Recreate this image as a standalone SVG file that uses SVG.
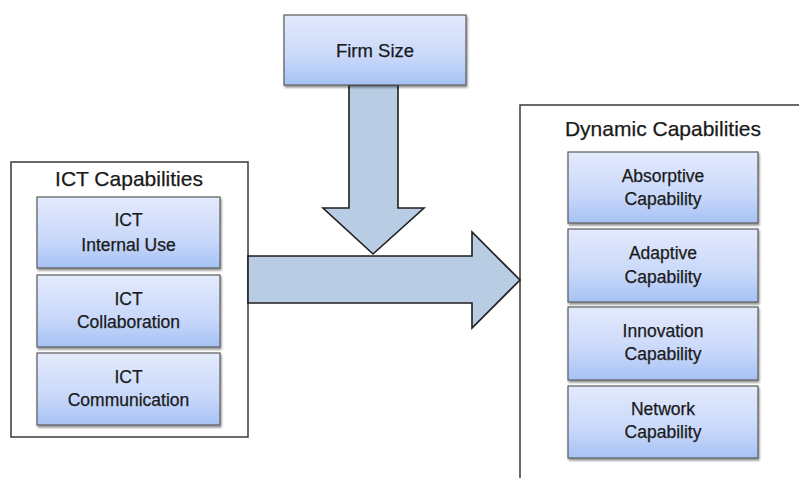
<svg xmlns="http://www.w3.org/2000/svg" width="799" height="478" viewBox="0 0 799 478">
<defs>
<linearGradient id="boxGrad" x1="0" y1="0" x2="0" y2="1">
<stop offset="0" stop-color="#e3eafc"/>
<stop offset="0.6" stop-color="#c9d8fa"/>
<stop offset="1" stop-color="#a6c2f4"/>
</linearGradient>
<filter id="shadow" x="-10%" y="-10%" width="120%" height="130%">
<feGaussianBlur in="SourceAlpha" stdDeviation="1"/>
<feOffset dx="0.5" dy="1.5" result="b"/>
<feComponentTransfer><feFuncA type="linear" slope="0.45"/></feComponentTransfer>
<feMerge><feMergeNode/><feMergeNode in="SourceGraphic"/></feMerge>
</filter>
</defs>
<style>
.container{fill:#ffffff;stroke:#3a3a3a;stroke-width:1.5}
.box{fill:url(#boxGrad);stroke:#5a5a5a;stroke-width:1.2;filter:url(#shadow)}
.arrow{fill:#b8cce4;stroke:#1e1e1e;stroke-width:1.6;stroke-linejoin:miter}
.title{font-family:"Liberation Sans",Arial,sans-serif;font-size:21px;fill:#1a1a1a;stroke:#1a1a1a;stroke-width:0.25;text-anchor:middle}
.lbl{font-family:"Liberation Sans",Arial,sans-serif;font-size:17.5px;fill:#1a1a1a;stroke:#1a1a1a;stroke-width:0.25;text-anchor:middle}
</style>
<rect width="799" height="478" fill="#ffffff"/>

<g id="ict-capabilities">
<rect class="container" x="11" y="162" width="237" height="275"/>
<text class="title" x="129" y="186">ICT Capabilities</text>
</g>

<g id="dynamic-capabilities">
<path class="container" d="M520,480 L520,105 L801,105 L801,480"/>
<text class="title" x="663" y="136">Dynamic Capabilities</text>
</g>

<g id="connectors">
<polygon class="arrow" points="248,256 472,256 472,232 520,280 472,328 472,303 248,303"/>
<polygon class="arrow" points="349,85 398,85 398,208 424,208 373,254 323,208 349,208"/>
</g>

<g id="firm-size">
<rect class="box" x="284" y="15" width="182" height="70"/>
<text class="lbl" x="375" y="57" style="font-size:18.5px">Firm Size</text>
</g>

<g id="ict-internal-use">
<rect class="box" x="37" y="197" width="183" height="71"/>
<text class="lbl" x="128.5" y="226">ICT</text>
<text class="lbl" x="128.5" y="251">Internal Use</text>
</g>
<g id="ict-collaboration">
<rect class="box" x="37" y="275" width="183" height="72"/>
<text class="lbl" x="128.5" y="305">ICT</text>
<text class="lbl" x="128.5" y="328">Collaboration</text>
</g>
<g id="ict-communication">
<rect class="box" x="37" y="353" width="183" height="72"/>
<text class="lbl" x="128.5" y="383">ICT</text>
<text class="lbl" x="128.5" y="406">Communication</text>
</g>

<g id="absorptive-capability">
<rect class="box" x="568" y="152" width="190" height="71"/>
<text class="lbl" x="663" y="182">Absorptive</text>
<text class="lbl" x="663" y="205">Capability</text>
</g>
<g id="adaptive-capability">
<rect class="box" x="568" y="229" width="190" height="73"/>
<text class="lbl" x="663" y="259">Adaptive</text>
<text class="lbl" x="663" y="283">Capability</text>
</g>
<g id="innovation-capability">
<rect class="box" x="568" y="307" width="190" height="73"/>
<text class="lbl" x="663" y="337">Innovation</text>
<text class="lbl" x="663" y="360">Capability</text>
</g>
<g id="network-capability">
<rect class="box" x="568" y="386" width="190" height="72"/>
<text class="lbl" x="663" y="415">Network</text>
<text class="lbl" x="663" y="438">Capability</text>
</g>
</svg>
